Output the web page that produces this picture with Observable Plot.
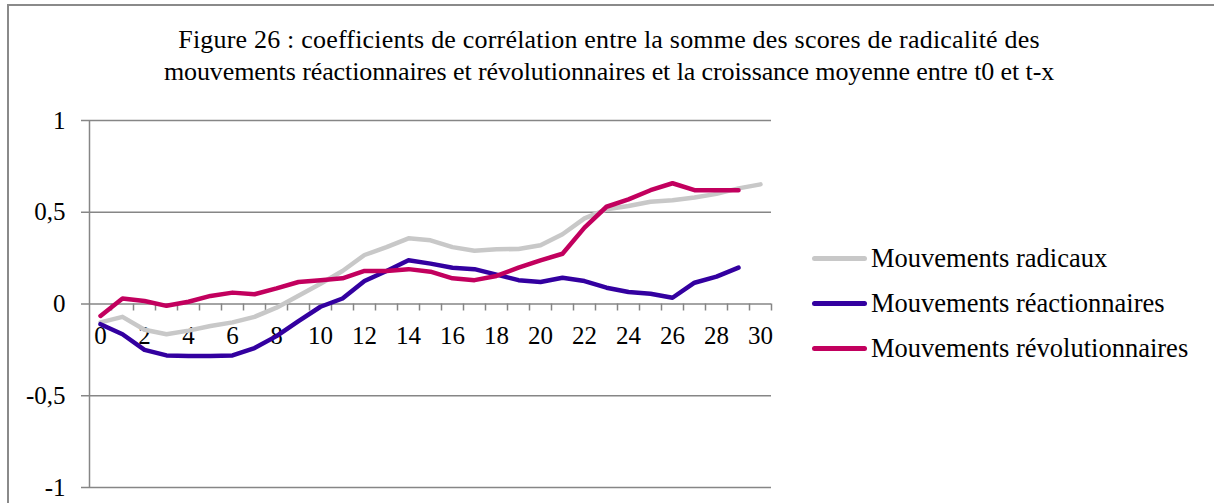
<!DOCTYPE html>
<html><head><meta charset="utf-8">
<script src="https://cdn.jsdelivr.net/npm/d3@7"></script>
<script src="https://cdn.jsdelivr.net/npm/@observablehq/plot@0.6"></script>
<style>
html,body{margin:0;padding:0;background:#fff;overflow:hidden}
#wrap{position:relative;width:1214px;height:503px;overflow:hidden;font-family:"Liberation Serif","Times New Roman",serif;color:#000}
#frame{position:absolute;left:7px;top:4px;width:1300px;height:600px;border:2px solid #8a8a8a;box-sizing:border-box}
#title{position:absolute;left:0;top:24px;width:1218px;text-align:center;font-family:"Liberation Serif",serif;font-size:26px;line-height:32px;white-space:nowrap}
#title div{display:block}
#t1{letter-spacing:0.2px}
#t2{letter-spacing:-0.1px}
#plot{position:absolute;left:0;top:0}
#legend{position:absolute;left:812px;top:235.5px;font-family:"Liberation Serif",serif;font-size:26.5px;white-space:nowrap}
.item{display:flex;align-items:center;height:45px}
.sw{width:55px;height:5px;border-radius:3px;margin-right:4px;flex:none}
</style></head>
<body>
<div id="wrap">
  <div id="frame"></div>
  <div id="title"><div id="t1">Figure 26 : coefficients de corrélation entre la somme des scores de radicalité des</div><div id="t2">mouvements réactionnaires et révolutionnaires et la croissance moyenne entre t0 et t-x</div></div>
  <div id="plot"></div>
  <div id="legend"></div>
</div>
<script>
const categories = [0,1,2,3,4,5,6,7,8,9,10,11,12,13,14,15,16,17,18,19,20,21,22,23,24,25,26,27,28,29,30];
const xTickLabels = [0,2,4,6,8,10,12,14,16,18,20,22,24,26,28,30];
const yTicks = [-1,-0.5,0,0.5,1];
const seriesNames = ["Mouvements radicaux","Mouvements réactionnaires","Mouvements révolutionnaires"];
const seriesColors = ["#c8c8c8","#3300a0","#c2005e"];
const radicaux = [-0.10,-0.07,-0.14,-0.165,-0.145,-0.12,-0.10,-0.07,-0.02,0.045,0.11,0.18,0.267,0.31,0.358,0.347,0.31,0.29,0.298,0.30,0.32,0.38,0.467,0.516,0.534,0.557,0.565,0.58,0.60,0.63,0.652];
const reactionnaires = [-0.11,-0.165,-0.25,-0.28,-0.283,-0.283,-0.28,-0.24,-0.175,-0.093,-0.015,0.03,0.125,0.18,0.238,0.22,0.198,0.19,0.16,0.13,0.12,0.143,0.125,0.089,0.065,0.056,0.034,0.116,0.149,0.198];
const revolutionnaires = [-0.065,0.03,0.016,-0.01,0.012,0.044,0.062,0.053,0.085,0.12,0.13,0.14,0.18,0.18,0.19,0.176,0.14,0.13,0.153,0.198,0.238,0.274,0.416,0.53,0.57,0.62,0.658,0.62,0.62,0.62];

const seriesValues = [radicaux, reactionnaires, revolutionnaires];
const rows = [];
seriesValues.forEach((vals, s) => vals.forEach((v, i) => rows.push({series: seriesNames[s], x: categories[i], y: v})));
const boundaries = categories.map(c => c + 0.5);

const chart = Plot.plot({
  width: 1214, height: 503,
  marginLeft: 89, marginRight: 443, marginTop: 120, marginBottom: 16,
  style: {background: "transparent", overflow: "visible", fontFamily: "Liberation Serif, Times New Roman, serif"},
  x: {domain: [-0.5, 30.5], axis: null},
  y: {domain: [-1, 1]},
  color: {domain: seriesNames, range: seriesColors},
  marks: [
    Plot.ruleY(yTicks, {stroke: "#868686", strokeWidth: 1.5}),
    Plot.ruleX([-0.5], {stroke: "#868686", strokeWidth: 1.5}),
    Plot.axisY({ticks: yTicks, tickFormat: d => String(d).replace(".", ","), tickSize: 8, tickPadding: 16, fontSize: 25, stroke: "#868686", strokeWidth: 1.5, color: "#000", label: null}),
    Plot.ruleX(boundaries, {x: d => d, y1: 0, y2: 0, insetBottom: -7, stroke: "#868686", strokeWidth: 1.5}),
    Plot.text(xTickLabels, {x: d => d, y: 0, dy: 32, text: d => String(d), fontSize: 25, fill: "#000", lineAnchor: "middle"}),
    Plot.line(rows, {x: "x", y: "y", z: "series", stroke: "series", strokeWidth: 4.5, strokeLinejoin: "round", strokeLinecap: "round"})
  ]
});
document.getElementById("plot").appendChild(chart);

const legend = document.getElementById("legend");
seriesNames.forEach((n, i) => {
  const it = document.createElement("div"); it.className = "item";
  const sw = document.createElement("div"); sw.className = "sw"; sw.style.background = seriesColors[i];
  const tx = document.createElement("span"); tx.textContent = n;
  it.appendChild(sw); it.appendChild(tx); legend.appendChild(it);
});
</script>
</body></html>
